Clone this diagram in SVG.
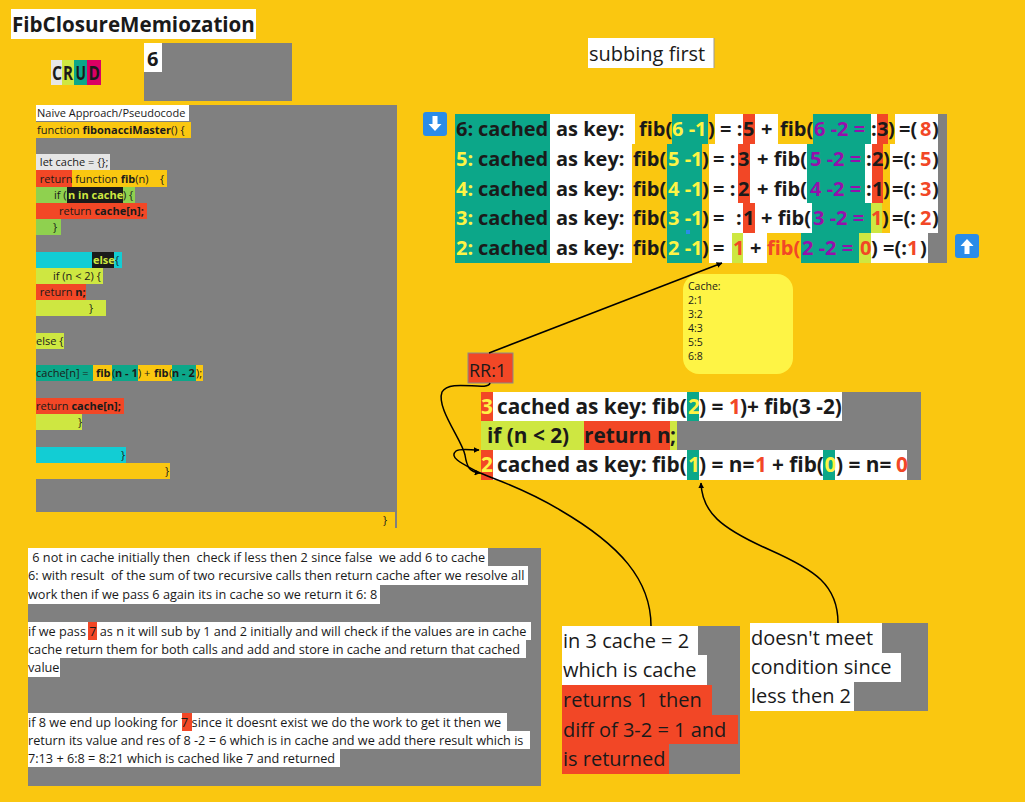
<svg xmlns="http://www.w3.org/2000/svg" width="1025" height="802" viewBox="0 0 1025 802">
<defs>
<style>
text{font-family:"Open Sans","Noto Sans","Liberation Sans",sans-serif;fill:#1A1A1A}
.bgY{fill:#FAC710}.T{fill:#0CA789}.W{fill:#FFFFFF}.R{fill:#F24726}.LG{fill:#CEE741}.G{fill:#8FD14F}.C{fill:#12CDD4}.K{fill:#1A1A1A}.GR{fill:#808080}.LGR{fill:#E6E6E6}.M{fill:#DA0063}
.code{font-size:11px}
.b{font-weight:bold}
.big{font-size:20px;font-weight:bold}
.big2{font-size:20.8px;font-weight:bold}
.note{font-size:12.7px}
.r20{font-size:20px}
.ty{fill:#FEF445}.tr{fill:#F24726}.tp{fill:#9510AC}.tlg{fill:#CEE741}
.conn{fill:none;stroke:#000;stroke-width:1.5}
</style>
<marker id="arr" viewBox="0 0 10 10" refX="9" refY="5" markerWidth="6" markerHeight="6" orient="auto" markerUnits="userSpaceOnUse">
<path d="M0,0 L10,5 L0,10 z" fill="#000"/>
</marker>
</defs>
<rect x="0" y="0" width="1025" height="802" class="bgY"/>

<g id="title">
<rect x="11" y="9" width="245" height="30" class="W"/>
<text x="12" y="32" font-size="20.6" class="b">FibClosureMemiozation</text>
</g>

<g id="crud">
<rect x="51" y="60" width="11" height="25" class="LGR"/>
<rect x="62" y="60" width="12" height="25" class="LG"/>
<rect x="74" y="60" width="13" height="25" class="T"/>
<rect x="87" y="60" width="14" height="25" class="M"/>
<text x="52" y="80" font-size="19" class="b" textLength="10" lengthAdjust="spacingAndGlyphs">C</text>
<text x="63" y="80" font-size="19" class="b" textLength="10" lengthAdjust="spacingAndGlyphs">R</text>
<text x="75.5" y="80" font-size="19" class="b" textLength="10.5" lengthAdjust="spacingAndGlyphs">U</text>
<text x="88.5" y="80" font-size="19" class="b" textLength="11.5" lengthAdjust="spacingAndGlyphs">D</text>
</g>

<g id="six">
<rect x="144" y="43" width="148" height="58" class="GR"/>
<rect x="144" y="43" width="18" height="29" class="W"/>
<text x="147" y="66" class="big">6</text>
</g>

<g id="subbing">
<rect x="588" y="38" width="126" height="30" class="W"/>
<line x1="714" y1="38" x2="714" y2="68" stroke="#999" stroke-width="1"/>
<text x="589" y="61" class="r20">subbing first</text>
</g>

<g id="code" class="code">
<rect x="36" y="105" width="361" height="423" class="GR"/>
<rect x="36" y="105" width="153" height="16" class="W"/>
<text x="37" y="117" class="code">Naive Approach/Pseudocode</text>
<rect x="36" y="122" width="155" height="16" class="bgY"/>
<text x="37" y="134" class="code">function <tspan class="b">fibonacciMaster</tspan>() {</text>
<rect x="36" y="154" width="74" height="16" class="LGR"/>
<text x="37" y="166" class="code" xml:space="preserve"> let cache = {};</text>
<rect x="36" y="170" width="36" height="17" class="R"/>
<rect x="72" y="170" width="95" height="17" class="bgY"/>
<text x="37" y="183" class="code" xml:space="preserve"> return function <tspan class="b">fib</tspan>(n)    {</text>
<rect x="36" y="187" width="99" height="16" class="G"/>
<rect x="67" y="187" width="56" height="16" class="K"/>
<text x="54" y="199" class="code">if (</text>
<text x="68" y="199" class="code b tlg">n in cache</text>
<text x="123" y="199" class="code">) {</text>
<rect x="36" y="203" width="111" height="16" class="R"/>
<text x="59" y="215" class="code">return <tspan class="b">cache[n];</tspan></text>
<rect x="36" y="219" width="25" height="16" class="G"/>
<text x="53" y="231" class="code">}</text>
<rect x="36" y="252" width="86" height="16" class="C"/>
<rect x="92" y="252" width="22" height="16" class="K"/>
<text x="93" y="264" class="code b tlg">else</text>
<text x="115" y="264" class="code">{</text>
<rect x="36" y="268" width="67" height="16" class="LG"/>
<text x="53" y="280" class="code">if (n &lt; 2) {</text>
<rect x="36" y="284" width="50" height="16" class="R"/>
<text x="37" y="296" class="code" xml:space="preserve"> return <tspan class="b">n;</tspan></text>
<rect x="36" y="300" width="70" height="16" class="LG"/>
<text x="89" y="312" class="code">}</text>
<rect x="36" y="333" width="28" height="16" class="LG"/>
<text x="36" y="345" class="code">else {</text>
<rect x="36" y="365" width="57" height="16" class="T"/>
<rect x="93" y="365" width="19" height="16" class="bgY"/>
<rect x="112" y="365" width="26" height="16" class="T"/>
<rect x="138" y="365" width="34" height="16" class="bgY"/>
<rect x="172" y="365" width="24" height="16" class="T"/>
<rect x="196" y="365" width="7" height="16" class="bgY"/>
<text x="36" y="377" class="code">cache[n] =</text>
<text x="96" y="377" class="code b">fib</text>
<text x="112" y="377" class="code">(</text>
<text x="115" y="377" class="code b">n - 1</text>
<text x="138" y="377" class="code">) +</text>
<text x="154" y="377" class="code b">fib</text>
<text x="169" y="377" class="code">(</text>
<text x="172" y="377" class="code b">n - 2</text>
<text x="196" y="377" class="code">);</text>
<rect x="36" y="398" width="88" height="16" class="R"/>
<text x="36" y="410" class="code">return <tspan class="b">cache[n];</tspan></text>
<rect x="36" y="414" width="46" height="16" class="LG"/>
<text x="78" y="426" class="code">}</text>
<rect x="36" y="447" width="90" height="16" class="C"/>
<text x="121" y="459" class="code">}</text>
<rect x="36" y="463" width="134" height="16" class="bgY"/>
<text x="165" y="475" class="code">}</text>
<rect x="36" y="512" width="359" height="16" class="bgY"/>
<text x="383" y="524" class="code">}</text>
</g>

<g id="arrow-down">
<rect x="423" y="112" width="24" height="24" rx="3" fill="#2A8CE8"/>
<path d="M432.5,116 h5 v8 h4 l-6.5,7 l-6.5,-7 h4 z" fill="#FFFFFF"/>
</g>
<g id="arrow-up">
<rect x="955" y="234" width="24" height="24" rx="3" fill="#2A8CE8"/>
<path d="M964.5,254 h5 v-8 h4 l-6.5,-7 l-6.5,7 h4 z" fill="#FFFFFF"/>
</g>

<g id="fib-rows" class="big">
<!-- row 1 -->
<rect x="455" y="114" width="95" height="30" class="T"/>
<rect x="550" y="114" width="85" height="30" class="W"/>
<rect x="635" y="114" width="37" height="30" class="bgY"/>
<rect x="672" y="114" width="36" height="30" class="T"/>
<rect x="708" y="114" width="7" height="30" class="bgY"/>
<rect x="715" y="114" width="28" height="30" class="W"/>
<rect x="743" y="114" width="12" height="30" class="R"/>
<rect x="755" y="114" width="23" height="30" class="W"/>
<rect x="778" y="114" width="35" height="30" class="bgY"/>
<rect x="813" y="114" width="58" height="30" class="T"/>
<rect x="871" y="114" width="6" height="30" class="W"/>
<rect x="877" y="114" width="11" height="30" class="R"/>
<rect x="888" y="114" width="7" height="30" class="bgY"/>
<rect x="895" y="114" width="43" height="30" class="W"/>
<rect x="938" y="114" width="9" height="30" class="GR"/>
<text x="456" y="136">6:</text>
<text x="478" y="136">cached</text>
<text x="556" y="136">as key:</text>
<text x="639" y="136">fib(</text>
<text x="672" y="136" class="ty">6 -1</text>
<text x="708" y="136">)</text>
<text x="720" y="136">= :</text>
<text x="743" y="136">5</text>
<text x="761" y="136">+</text>
<text x="780" y="136">fib(</text>
<text x="814" y="136" class="tp">6 -2 =</text>
<text x="871" y="136">:</text>
<text x="877" y="136">3</text>
<text x="888" y="136">)</text>
<text x="899" y="136">=(</text>
<text x="920" y="136" class="tr">8</text>
<text x="932" y="136">)</text>
<!-- row 2 -->
<rect x="455" y="144" width="95" height="29" class="T"/>
<rect x="550" y="144" width="82" height="29" class="W"/>
<rect x="632" y="144" width="35" height="29" class="bgY"/>
<rect x="667" y="144" width="35" height="29" class="T"/>
<rect x="702" y="144" width="7" height="29" class="bgY"/>
<rect x="709" y="144" width="29" height="29" class="W"/>
<rect x="738" y="144" width="12" height="29" class="R"/>
<rect x="750" y="144" width="57" height="29" class="W"/>
<rect x="807" y="144" width="58" height="29" class="T"/>
<rect x="865" y="144" width="7" height="29" class="W"/>
<rect x="872" y="144" width="11" height="29" class="R"/>
<rect x="883" y="144" width="7" height="29" class="bgY"/>
<rect x="890" y="144" width="48" height="29" class="W"/>
<rect x="938" y="144" width="9" height="29" class="GR"/>
<text x="456" y="166" class="ty">5:</text>
<text x="478" y="166">cached</text>
<text x="556" y="166">as key:</text>
<text x="633" y="166">fib(</text>
<text x="668" y="166" class="ty">5 -1</text>
<text x="702" y="166">)</text>
<text x="713" y="166">= :</text>
<text x="738" y="166">3</text>
<text x="757" y="166">+ fib(</text>
<text x="810" y="166" class="tp">5 -2 =</text>
<text x="866" y="166">:</text>
<text x="872" y="166">2</text>
<text x="883" y="166">)</text>
<text x="892" y="166">=(:</text>
<text x="920" y="166" class="tr">5</text>
<text x="932" y="166">)</text>
<!-- row 3 -->
<rect x="455" y="173" width="95" height="30" class="T"/>
<rect x="550" y="173" width="82" height="30" class="W"/>
<rect x="632" y="173" width="35" height="30" class="bgY"/>
<rect x="667" y="173" width="35" height="30" class="T"/>
<rect x="702" y="173" width="7" height="30" class="bgY"/>
<rect x="709" y="173" width="29" height="30" class="W"/>
<rect x="738" y="173" width="12" height="30" class="R"/>
<rect x="750" y="173" width="57" height="30" class="W"/>
<rect x="807" y="173" width="58" height="30" class="T"/>
<rect x="865" y="173" width="7" height="30" class="W"/>
<rect x="872" y="173" width="11" height="30" class="R"/>
<rect x="883" y="173" width="7" height="30" class="bgY"/>
<rect x="890" y="173" width="48" height="30" class="W"/>
<rect x="938" y="173" width="9" height="30" class="GR"/>
<text x="456" y="196" class="ty">4:</text>
<text x="478" y="196">cached</text>
<text x="556" y="196">as key:</text>
<text x="633" y="196">fib(</text>
<text x="668" y="196" class="ty">4 -1</text>
<text x="702" y="196">)</text>
<text x="713" y="196">= :</text>
<text x="738" y="196">2</text>
<text x="757" y="196">+ fib(</text>
<text x="810" y="196" class="tp">4 -2 =</text>
<text x="866" y="196">:</text>
<text x="872" y="196">1</text>
<text x="883" y="196">)</text>
<text x="892" y="196">=(:</text>
<text x="920" y="196" class="tr">3</text>
<text x="932" y="196">)</text>
<!-- row 4 -->
<rect x="455" y="203" width="95" height="30" class="T"/>
<rect x="550" y="203" width="82" height="30" class="W"/>
<rect x="632" y="203" width="35" height="30" class="bgY"/>
<rect x="667" y="203" width="35" height="30" class="T"/>
<rect x="702" y="203" width="7" height="30" class="bgY"/>
<rect x="709" y="203" width="34" height="30" class="W"/>
<rect x="743" y="203" width="12" height="30" class="R"/>
<rect x="755" y="203" width="57" height="30" class="W"/>
<rect x="812" y="203" width="59" height="30" class="T"/>
<rect x="871" y="203" width="11" height="30" class="LG"/>
<rect x="882" y="203" width="8" height="30" class="bgY"/>
<rect x="890" y="203" width="48" height="30" class="W"/>
<rect x="938" y="203" width="9" height="30" class="GR"/>
<text x="456" y="225" class="ty">3:</text>
<text x="478" y="225">cached</text>
<text x="556" y="225">as key:</text>
<text x="633" y="225">fib(</text>
<text x="668" y="225" class="ty">3 -1</text>
<text x="702" y="225">)</text>
<text x="713" y="225">=</text>
<text x="736" y="225">:</text>
<text x="743" y="225">1</text>
<text x="761" y="225">+ fib(</text>
<text x="813" y="225" class="tp">3 -2 =</text>
<text x="871" y="225" class="tr">1</text>
<text x="882" y="225">)</text>
<text x="892" y="225">=(:</text>
<text x="920" y="225" class="tr">2</text>
<text x="932" y="225">)</text>
<!-- row 5 -->
<rect x="455" y="233" width="95" height="30" class="T"/>
<rect x="550" y="233" width="82" height="30" class="W"/>
<rect x="632" y="233" width="35" height="30" class="bgY"/>
<rect x="667" y="233" width="35" height="30" class="T"/>
<rect x="702" y="233" width="7" height="30" class="bgY"/>
<rect x="709" y="233" width="23" height="30" class="W"/>
<rect x="732" y="233" width="11" height="30" class="LG"/>
<rect x="743" y="233" width="24" height="30" class="W"/>
<rect x="767" y="233" width="34" height="30" class="bgY"/>
<rect x="801" y="233" width="58" height="30" class="T"/>
<rect x="859" y="233" width="12" height="30" class="LG"/>
<rect x="871" y="233" width="57" height="30" class="W"/>
<rect x="928" y="233" width="19" height="30" class="GR"/>
<text x="456" y="255" class="ty">2:</text>
<text x="478" y="255">cached</text>
<text x="556" y="255">as key:</text>
<text x="633" y="255">fib(</text>
<text x="668" y="255" class="ty">2 -1</text>
<text x="702" y="255">)</text>
<text x="713" y="255">=</text>
<text x="733" y="255" class="tr">1</text>
<text x="750" y="255">+</text>
<text x="767" y="255" class="tr">fib(</text>
<text x="802" y="255" class="tp">2 -2 =</text>
<text x="860" y="255" class="tr">0</text>
<text x="871" y="255">) =(:</text>
<text x="907" y="255" class="tr">1</text>
<text x="920" y="255">)</text>
<rect x="686" y="230" width="4" height="4" fill="#2A8CE8"/>
</g>

<g id="cache">
<rect x="683" y="274" width="110" height="100" rx="16" fill="#FEF445"/>
<text x="688" y="290" font-size="10.5" fill="#333">Cache:</text>
<text x="688" y="304" font-size="10.5" fill="#333">2:1</text>
<text x="688" y="318" font-size="10.5" fill="#333">3:2</text>
<text x="688" y="332" font-size="10.5" fill="#333">4:3</text>
<text x="688" y="346" font-size="10.5" fill="#333">5:5</text>
<text x="688" y="360" font-size="10.5" fill="#333">6:8</text>
</g>

<g id="rr">
<rect x="468" y="353" width="45" height="30" class="R" stroke="#8a8a8a" stroke-width="1"/>
<text x="469" y="377" font-size="18">RR:1</text>
</g>

<g id="trace" class="big2">
<rect x="481" y="392" width="440" height="88" class="GR"/>
<rect x="481" y="392" width="12" height="29" class="R"/>
<rect x="493" y="392" width="194" height="29" class="W"/>
<rect x="687" y="392" width="12" height="29" class="T"/>
<rect x="699" y="392" width="143" height="29" class="W"/>
<text x="481" y="414" class="ty">3</text>
<text x="497" y="414">cached as key: fib(</text>
<text x="688" y="414" class="ty">2</text>
<text x="699" y="414">) =</text>
<text x="729" y="414" class="tr">1</text>
<text x="740" y="414">)+ fib(3 -2)</text>
<rect x="481" y="421" width="103" height="29" class="LG"/>
<rect x="584" y="421" width="86" height="29" class="R"/>
<rect x="670" y="421" width="7" height="29" class="LG"/>
<text x="487" y="443">if (n &lt; 2)</text>
<text x="584" y="443">return n</text>
<text x="670" y="443">;</text>
<rect x="481" y="450" width="12" height="30" class="R"/>
<rect x="493" y="450" width="194" height="30" class="W"/>
<rect x="687" y="450" width="12" height="30" class="T"/>
<rect x="699" y="450" width="124" height="30" class="W"/>
<rect x="823" y="450" width="12" height="30" class="T"/>
<rect x="835" y="450" width="72" height="30" class="W"/>
<text x="481" y="472" class="ty">2</text>
<text x="497" y="472">cached as key: fib(</text>
<text x="688" y="472" class="ty">1</text>
<text x="699" y="472">) = n=</text>
<text x="755" y="472" class="tr">1</text>
<text x="772" y="472">+ fib(</text>
<text x="824.5" y="472" class="ty">0</text>
<text x="836" y="472">) = n=</text>
<text x="896" y="472" class="tr">0</text>
</g>

<g id="explain" class="note">
<rect x="28" y="548" width="513" height="238" class="GR"/>
<rect x="28" y="548" width="460" height="18" class="W"/>
<text x="29" y="562" class="note" xml:space="preserve"> 6 not in cache initially then  check if less then 2 since false  we add 6 to cache</text>
<rect x="28" y="566" width="500" height="19" class="W"/>
<text x="28" y="580" class="note" xml:space="preserve">6: with result  of the sum of two recursive calls then return cache after we resolve all</text>
<rect x="28" y="585" width="352" height="19" class="W"/>
<text x="28" y="599" class="note">work then if we pass 6 again its in cache so we return it 6: 8</text>
<rect x="28" y="622" width="503" height="18" class="W"/>
<rect x="88" y="622" width="9" height="18" class="R"/>
<text x="28" y="636" class="note">if we pass 7 as n it will sub by 1 and 2 initially and will check if the values are in cache</text>
<rect x="28" y="640" width="498" height="18" class="W"/>
<text x="28" y="654" class="note">cache return them for both calls and add and store in cache and return that cached</text>
<rect x="28" y="658" width="32" height="19" class="W"/>
<text x="28" y="672" class="note">value</text>
<rect x="28" y="713" width="479" height="18" class="W"/>
<rect x="182" y="713" width="10" height="18" class="R"/>
<text x="28" y="727" class="note">if 8 we end up looking for 7 since it doesnt exist we do the work to get it then we</text>
<rect x="28" y="731" width="502" height="18" class="W"/>
<text x="28" y="745" class="note">return its value and res of 8 -2 = 6 which is in cache and we add there result which is</text>
<rect x="28" y="749" width="312" height="18" class="W"/>
<text x="28" y="763" class="note">7:13 + 6:8 = 8:21 which is cached like 7 and returned</text>
</g>

<g id="note-cache" class="r20">
<rect x="562" y="626" width="178" height="148" class="GR"/>
<rect x="562" y="626" width="136" height="29" class="W"/>
<rect x="562" y="655" width="145" height="30" class="W"/>
<rect x="562" y="685" width="150" height="30" class="R"/>
<rect x="562" y="715" width="176" height="29" class="R"/>
<rect x="562" y="744" width="107" height="30" class="R"/>
<text x="563" y="648" class="r20">in 3 cache = 2</text>
<text x="563" y="677" class="r20">which is cache</text>
<text x="563" y="707" class="r20" xml:space="preserve">returns 1  then</text>
<text x="563" y="737" class="r20">diff of 3-2 = 1 and</text>
<text x="563" y="766" class="r20">is returned</text>
</g>

<g id="note-cond" class="r20">
<rect x="750" y="623" width="178" height="88" class="GR"/>
<rect x="750" y="623" width="132" height="30" class="W"/>
<rect x="750" y="653" width="151" height="29" class="W"/>
<rect x="750" y="682" width="104" height="29" class="W"/>
<text x="751" y="645" class="r20">doesn't meet</text>
<text x="751" y="674" class="r20">condition since</text>
<text x="751" y="703" class="r20">less then 2</text>
</g>

<g id="connectors">
<path class="conn" d="M489,353 L722,263" marker-end="url(#arr)"/>
<path class="conn" d="M490,383 C488,392 450,378 442,392 C436,408 462,440 465,455 C467,468 470,472 480,473" marker-end="url(#arr)"/>
<path class="conn" d="M651,626 C651,580 620,545 560,510 C520,486 490,478 478,472 C465,465 448,458 456,451 C460,448 470,450 479,450" marker-end="url(#arr)"/>
<path class="conn" d="M838,623 C838,585 815,570 770,550 C720,528 702,512 701,483" marker-end="url(#arr)"/>
</g>
</svg>
